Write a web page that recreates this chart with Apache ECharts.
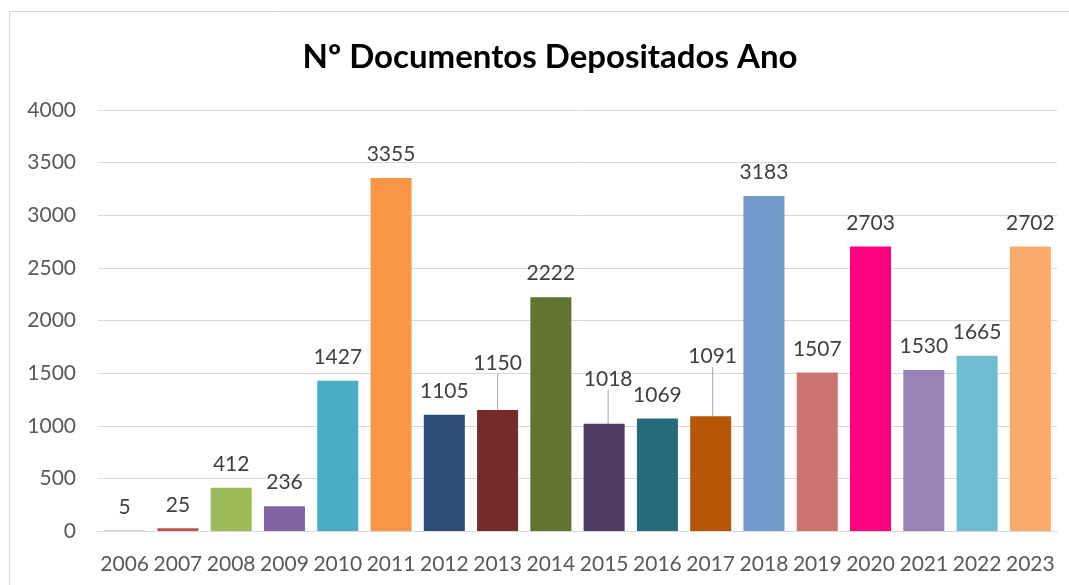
<!DOCTYPE html>
<html>
<head>
<meta charset="utf-8">
<script src="https://cdn.jsdelivr.net/npm/echarts@6/dist/echarts.min.js"></script>
<style>
  html, body { margin: 0; padding: 0; background: #fff; }
  #chart { width: 1069px; height: 585px; }
</style>
</head>
<body>
<div id="chart"></div>
<script>
// anos e documentos depositados
var anos = ['2006', '2007', '2008', '2009', '2010', '2011', '2012', '2013', '2014',
  '2015', '2016', '2017', '2018', '2019', '2020', '2021', '2022', '2023'];
var documentos = [5, 25, 412, 236, 1427, 3355, 1105, 1150, 2222,
  1018, 1069, 1091, 3183, 1507, 2703, 1530, 1665, 2702];
var cores = ['#9fb3d1', '#c0504d', '#9bbb59', '#8064a2', '#4bacc6', '#f79646',
  '#2c4d75', '#772c2a', '#5f7530', '#4d3b62', '#276a7c', '#b65708',
  '#729aca', '#cd7371', '#ff0080', '#9983b5', '#6fbdd1', '#f9ab6b'];
var yTicks = [0, 500, 1000, 1500, 2000, 2500, 3000, 3500, 4000];

// rótulos movidos à mão (com linha de chamada)
var labelMoves = {
  7: { dx: 0, dy: -23 },
  9: { dx: 4, dy: -21 },
  11: { dx: 2, dy: -36 }
};

var chart = echarts.init(document.getElementById('chart'));

var option = {
  animation: false,
  textStyle: { fontFamily: 'Lato' },
  graphic: [{
    type: 'rect',
    shape: { x: 9.5, y: 11.5, width: 1100, height: 620 },
    style: { fill: 'none', stroke: '#d9d9d9', lineWidth: 1 },
    z: -1
  }],
  title: {
    text: 'Nº Documentos Depositados Ano',
    left: 545,
    textAlign: 'center',
    top: 36,
    textStyle: { fontFamily: 'Lato', fontSize: 33, fontWeight: 'bold', color: '#000' }
  },
  grid: {
    left: 98,
    right: 12,
    top: 110,
    bottom: 54
  },
  xAxis: [{
    type: 'category',
    data: anos,
    axisTick: { show: false },
    axisLine: { lineStyle: { color: '#d9d9d9', width: 1 } },
    axisLabel: { color: '#595959', fontSize: 21, margin: 23, interval: 0 }
  }],
  yAxis: [{
    type: 'value',
    min: yTicks[0],
    max: yTicks[yTicks.length - 1],
    interval: yTicks[1] - yTicks[0],
    axisLine: { show: false },
    axisTick: { show: false },
    splitLine: { lineStyle: { color: '#d9d9d9', width: 1 } },
    axisLabel: {
      color: '#595959',
      fontSize: 21,
      margin: 22,
      formatter: function (v) { return String(v); }
    }
  }],
  series: [{
    name: 'Nº Documentos',
    type: 'bar',
    barCategoryGap: '23%',
    data: documentos.map(function (v, i) {
      return {
        value: v,
        itemStyle: { color: cores[i] },
        labelLine: { show: !!labelMoves[i] }
      };
    }),
    label: {
      show: true,
      position: 'top',
      distance: 13,
      color: '#404040',
      fontSize: 21
    },
    labelLine: {
      show: false,
      lineStyle: { color: '#a6a6a6', width: 1 }
    },
    labelLayout: function (params) {
      var m = labelMoves[params.dataIndex];
      if (!m) return {};
      return { dx: m.dx, dy: m.dy };
    }
  }]
};

chart.setOption(option);
</script>
</body>
</html>
